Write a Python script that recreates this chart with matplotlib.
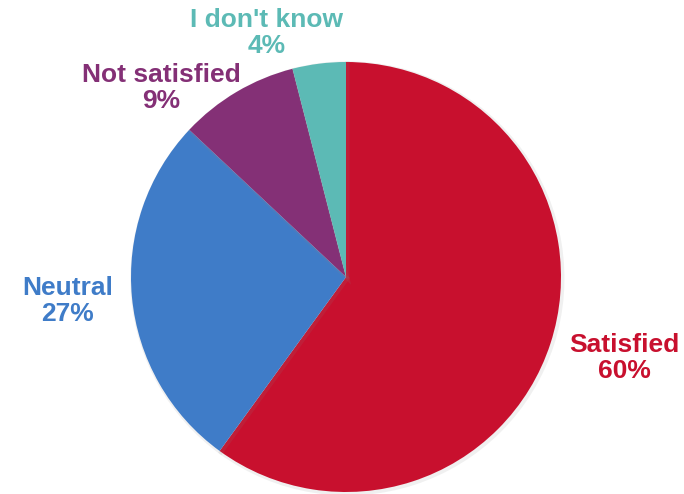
import matplotlib
matplotlib.use("Agg")
import matplotlib.pyplot as plt
import matplotlib.patheffects as pe

categories = ["Satisfied", "Neutral", "Not satisfied", "I don't know"]
shares = [60, 27, 9, 4]
colors = ["#C8102E", "#3F7CC8", "#843076", "#5CBAB5"]
# label anchor points (pixel coordinates, origin at top-left)
label_pos = [(624, 358), (68, 301), (161, 88), (267, 33)]

W, H = 684, 494
fig = plt.figure(figsize=(W / 100, H / 100), dpi=100)
ax = fig.add_axes([0, 0, 1, 1])

cx, cy, r = 346, H - 277, 215
wedges, _ = ax.pie(shares, colors=colors, startangle=90, counterclock=False,
                   center=(cx, cy), radius=r, frame=True,
                   wedgeprops=dict(edgecolor="none", linewidth=0))
for w in wedges:
    w.set_path_effects([pe.SimpleLineShadow(offset=(1, -1), shadow_color="#888888",
                                            alpha=0.12, linewidth=3), pe.Normal()])
ax.set_xlim(0, W)
ax.set_ylim(0, H)
ax.set_aspect("equal")
ax.axis("off")

for cat, val, col, (x, y) in zip(categories, shares, colors, label_pos):
    ax.text(x, H - y, f"{cat}\n{val}%", color=col, ha="center", va="center",
            fontsize=19, fontweight="bold", family="Liberation Sans",
            linespacing=1.15)

fig.savefig("out.png", dpi=100)
